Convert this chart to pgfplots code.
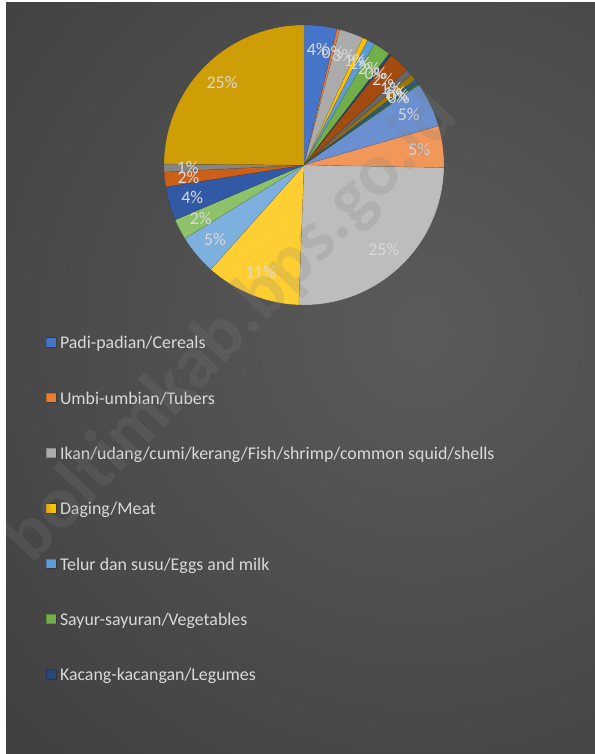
\documentclass[border=0pt]{standalone}
\usepackage{pgfplots}
\pgfplotsset{compat=1.18}
\usepackage{pgfplotstable}
\usepackage{fontspec}
\setmainfont{Carlito}

% slice colours, clockwise from 12 o'clock
\definecolor{slice0}{HTML}{4674C8}
\definecolor{slice1}{HTML}{ED7D31}
\definecolor{slice2}{HTML}{ABABAB}
\definecolor{slice3}{HTML}{FFC000}
\definecolor{slice4}{HTML}{5D9DD7}
\definecolor{slice5}{HTML}{72AF4A}
\definecolor{slice6}{HTML}{284679}
\definecolor{slice7}{HTML}{A44B10}
\definecolor{slice8}{HTML}{666666}
\definecolor{slice9}{HTML}{9C7604}
\definecolor{slice10}{HTML}{265F93}
\definecolor{slice11}{HTML}{446A2C}
\definecolor{slice12}{HTML}{6B90D2}
\definecolor{slice13}{HTML}{F2975A}
\definecolor{slice14}{HTML}{BDBDBD}
\definecolor{slice15}{HTML}{FFCE33}
\definecolor{slice16}{HTML}{7DB0DE}
\definecolor{slice17}{HTML}{8DC26A}
\definecolor{slice18}{HTML}{3159A6}
\definecolor{slice19}{HTML}{CC6019}
\definecolor{slice20}{HTML}{858585}
\definecolor{slice21}{HTML}{CF9D06}
\definecolor{bgin}{HTML}{5B5B5B}
\definecolor{bgout}{HTML}{272727}
\definecolor{txt}{HTML}{D9D9D9}

% share of each slice (%), clockwise from 12 o'clock
\pgfplotstableread{
share
3.8
0.3
2.8
0.6
0.9
2.0
0.3
2.4
0.8
0.7
0.4
0.3
5.2
4.8
25.3
11.0
4.6
2.4
3.9
1.7
0.9
24.9
}\piedata

\tikzset{slicelabel/.style={text=txt, font=\fontsize{13.4}{15}\selectfont, inner sep=0pt}}

\begin{document}
\begin{tikzpicture}
% chart area background (px units)
\begin{scope}[x=0.75pt,y=0.75pt]
  \useasboundingbox (0,0) rectangle (595,754);
  \fill[white] (0,0) rectangle (595,754);
  \fill[bgout] (6,0) rectangle (595,751);
  \begin{scope}
    \clip (6,0) rectangle (595,751);
    \shade[inner color=bgin, outer color=bgout] (420,424) circle (1120);
  \end{scope}
\end{scope}

% start/end angle and label spot of every slice
\pgfplotstablegetrowsof{\piedata}
\pgfmathtruncatemacro\nlast{\pgfplotsretval-1}
\xdef\cumul{0}
\foreach \i in {0,...,\nlast}{
  \pgfplotstablegetelem{\i}{share}\of\piedata
  \let\val\pgfplotsretval
  \pgfmathsetmacro\ta{\cumul}
  \pgfmathsetmacro\tb{\cumul+3.6*\val}
  \pgfmathsetmacro\lx{304+0.83*140*sin((\ta+\tb)/2)}
  \pgfmathsetmacro\ly{165-0.83*140*cos((\ta+\tb)/2)}
  \pgfmathtruncatemacro\lt{round(\val)}
  \expandafter\xdef\csname pa\i\endcsname{\ta}
  \expandafter\xdef\csname pb\i\endcsname{\tb}
  \expandafter\xdef\csname lx\i\endcsname{\lx}
  \expandafter\xdef\csname ly\i\endcsname{\ly}
  \expandafter\xdef\csname lt\i\endcsname{\lt}
  \xdef\cumul{\tb}
}

\begin{axis}[
  at={(0,0)}, anchor=south west,
  scale only axis, width=446.25pt, height=565.5pt,
  xmin=0, xmax=595, ymin=0, ymax=754, y dir=reverse,
  hide axis, clip=false,
  legend image code/.code={\fill[#1] (0pt,-2.6pt) rectangle (7pt,4.4pt);},
  legend cell align=left,
  legend style={at={(axis cs:46,336)}, anchor=north west, draw=none, fill=none,
    text=txt, font=\fontsize{13.4}{15}\selectfont, inner sep=0pt,
    nodes={inner sep=0pt}, row sep=30.7pt, column sep=3pt},
]
\pgfplotsinvokeforeach{0,...,\nlast}{
  \edef\temp{\noexpand\addplot[fill=slice#1, draw=black, draw opacity=0.2, line width=0.3pt,
    domain=\csname pa#1\endcsname:\csname pb#1\endcsname,
    samples=40, variable=\noexpand\t]}
  \temp ({304+140*sin(\t)},{165-140*cos(\t)}) -- (axis cs:304,165) -- cycle;
}
\pgfplotsinvokeforeach{0,...,\nlast}{
  \edef\temp{\noexpand\node[slicelabel] at (axis cs:\csname lx#1\endcsname,\csname ly#1\endcsname) {\csname lt#1\endcsname\noexpand\%};}
  \temp
}
\legend{Padi-padian/Cereals, Umbi-umbian/Tubers,
  Ikan/udang/cumi/kerang/Fish/shrimp/common squid/shells, Daging/Meat,
  Telur dan susu/Eggs and milk, Sayur-sayuran/Vegetables,
  Kacang-kacangan/Legumes}
\end{axis}

% watermark
\begin{scope}[x=0.75pt,y=0.75pt]
  \clip (6,0) rectangle (595,751);
  \node[rotate=46.3, text=gray, opacity=0.2, font=\bfseries\fontsize{56}{56}\selectfont]
    at (232,426) {boltimkab.bps.go.id};
\end{scope}
\end{tikzpicture}
\end{document}
